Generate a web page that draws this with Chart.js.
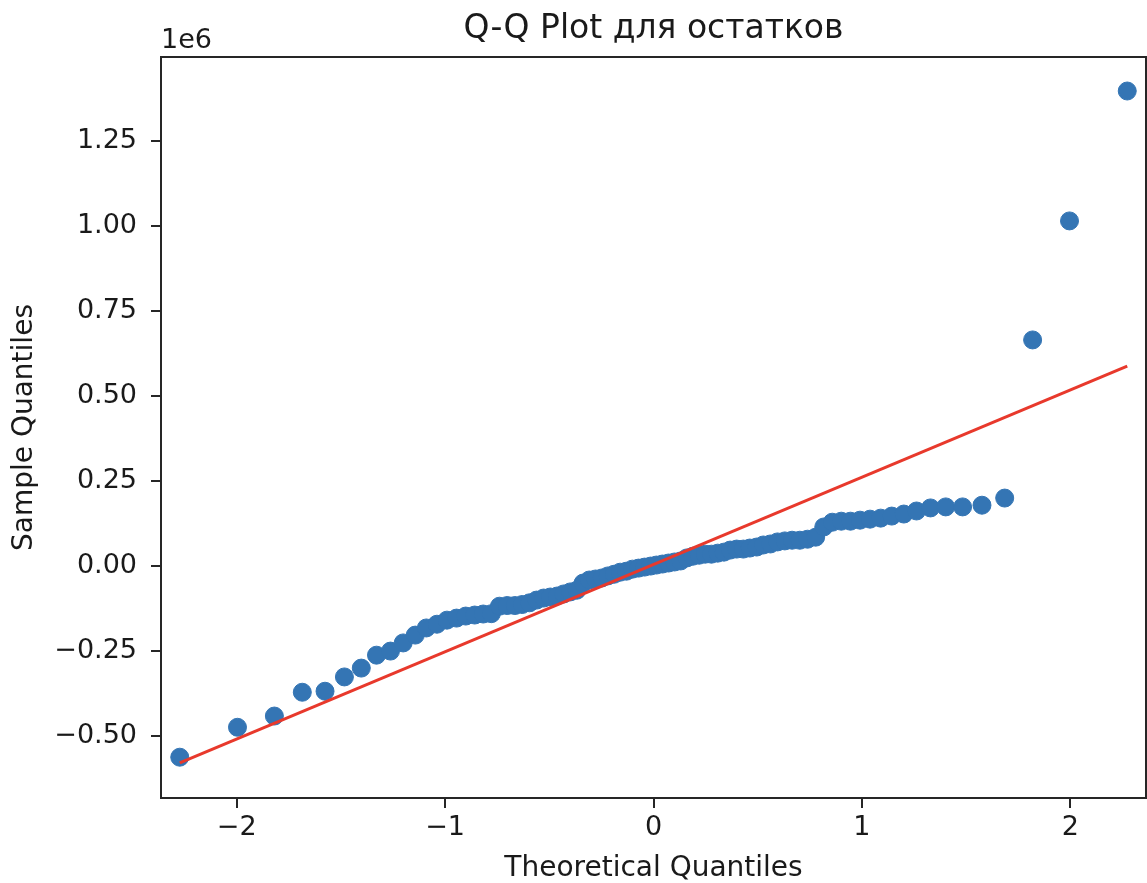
<!DOCTYPE html>
<html>
<head>
<meta charset="utf-8">
<script src="https://cdn.jsdelivr.net/npm/chart.js@4.4.1/dist/chart.umd.min.js"></script>
<style>
html, body { margin: 0; padding: 0; background: #fff; overflow: hidden; }
#wrap { width: 1156px; height: 883px; }
</style>
</head>
<body>
<div id="wrap"><canvas id="qq" width="1156" height="883"></canvas></div>
<script>
const TITLE = "Q-Q Plot для остатков";
const X_LABEL = "Theoretical Quantiles";
const Y_LABEL = "Sample Quantiles";
const OFFSET_TEXT = "1e6";

// theoretical quantiles
const theoretical = [
    -2.273, -1.996, -1.819, -1.685, -1.576, -1.483, -1.402, -1.329, -1.262, -1.201,
    -1.143, -1.090, -1.039, -0.991, -0.945, -0.901, -0.858, -0.817, -0.778, -0.739,
    -0.702, -0.665, -0.630, -0.595, -0.561, -0.527, -0.495, -0.462, -0.431, -0.399,
    -0.368, -0.338, -0.308, -0.278, -0.248, -0.219, -0.189, -0.160, -0.130, -0.101,
    -0.072, -0.043, -0.014, 0.014, 0.043, 0.072, 0.101, 0.130, 0.160, 0.189,
    0.219, 0.248, 0.278, 0.308, 0.338, 0.368, 0.399, 0.431, 0.462, 0.495,
    0.527, 0.561, 0.595, 0.630, 0.665, 0.702, 0.739, 0.778, 0.817, 0.858,
    0.901, 0.945, 0.991, 1.039, 1.090, 1.143, 1.201, 1.262, 1.329, 1.402,
    1.483, 1.576, 1.685, 1.819, 1.996, 2.273
];

// sample quantiles (residuals)
const sample = [
    -562000, -474000, -441000, -371000, -368000, -326000, -300000, -262000, -250000, -226000,
    -203000, -182000, -171000, -159000, -153000, -147000, -144000, -141000, -140000, -118000,
    -116000, -116000, -113000, -108000, -100000, -94000, -91000, -88000, -82000, -76000,
    -71000, -50000, -41000, -38000, -35000, -29000, -24000, -18000, -15000, -9000,
    -6000, -3000, 0, 3000, 6000, 9000, 12000, 15000, 24000, 29000,
    32000, 35000, 35000, 38000, 41000, 47000, 50000, 50000, 53000, 56000,
    62000, 65000, 71000, 74000, 76000, 76000, 79000, 85000, 115000, 129000,
    132000, 132000, 135000, 138000, 141000, 147000, 153000, 162000, 171000, 174000,
    174000, 179000, 200000, 665000, 1015000, 1397000
];

// fitted reference line ends
const lineX = [-2.273, 2.273];
const lineY = [-579000, 588000];

// tick positions
const xTicks = [-2, -1, 0, 1, 2];
const yTicks = [-500000, -250000, 0, 250000, 500000, 750000, 1000000, 1250000];

const X_MIN = -2.363, X_MAX = 2.363;
const Y_MIN = -682000, Y_MAX = 1497000;

const INK = '#262626';
const TEXT = '#1a1a1a';
const FONT = '"DejaVu Sans", "Liberation Sans", sans-serif';

var points = theoretical.map(function (x, i) { return {x: x, y: sample[i]}; });
var linePts = lineX.map(function (x, i) { return {x: x, y: lineY[i]}; });

var frame = {
    id: 'frame',
    afterDraw: function (chart) {
        var ctx = chart.ctx, a = chart.chartArea;
        ctx.save();
        ctx.strokeStyle = INK;
        ctx.lineWidth = 2;
        ctx.strokeRect(a.left, a.top, a.right - a.left, a.bottom - a.top);
        ctx.fillStyle = TEXT;
        ctx.font = '27px ' + FONT;
        ctx.textAlign = 'left';
        ctx.textBaseline = 'alphabetic';
        ctx.fillText(OFFSET_TEXT, a.left, 48);
        ctx.restore();
    }
};

var minus = function (s) { return s.replace('-', '\u2212'); };
var setTicks = function (list) {
    return function (scale) { scale.ticks = list.map(function (v) { return {value: v}; }); };
};

new Chart(document.getElementById('qq'), {
    type: 'scatter',
    data: {
        datasets: [
            {
                type: 'line',
                label: 'line',
                data: linePts,
                borderColor: '#e8392c',
                borderWidth: 3,
                pointRadius: 0,
                fill: false,
                order: 0
            },
            {
                label: 'sample',
                data: points,
                backgroundColor: 'rgb(52,117,180)',
                borderColor: 'rgb(52,117,180)',
                borderWidth: 1,
                pointRadius: 9,
                order: 1
            }
        ]
    },
    options: {
        responsive: false,
        animation: false,
        layout: { padding: { top: 0, right: 1, left: 0, bottom: 0 } },
        plugins: {
            legend: { display: false },
            tooltip: { enabled: false },
            title: {
                display: true,
                text: TITLE,
                fullSize: false,
                color: TEXT,
                font: { family: FONT, size: 33, weight: 'normal', lineHeight: 1.2 },
                padding: { top: 10, bottom: 7.4 }
            }
        },
        scales: {
            x: {
                type: 'linear',
                min: X_MIN,
                max: X_MAX,
                afterBuildTicks: setTicks(xTicks),
                afterFit: function (s) { s.height = 85; },
                border: { display: false },
                grid: { display: true, drawOnChartArea: false, drawTicks: true, tickLength: 10, color: INK, lineWidth: 2 },
                ticks: {
                    maxRotation: 0,
                    padding: 4,
                    color: TEXT,
                    font: { family: FONT, size: 27, lineHeight: 1.2 },
                    callback: function (v) { return minus(String(v)); }
                },
                title: {
                    display: true,
                    text: X_LABEL,
                    color: TEXT,
                    font: { family: FONT, size: 28, lineHeight: 1.0 },
                    padding: { top: 0, bottom: 0 }
                }
            },
            y: {
                type: 'linear',
                min: Y_MIN,
                max: Y_MAX,
                afterBuildTicks: setTicks(yTicks),
                afterFit: function (s) { s.width = 161; },
                border: { display: false },
                grid: { display: true, drawOnChartArea: false, drawTicks: true, tickLength: 10, color: INK, lineWidth: 2 },
                ticks: {
                    padding: 14,
                    color: TEXT,
                    font: { family: FONT, size: 27, lineHeight: 1.2 },
                    callback: function (v) { return minus((v / 1e6).toFixed(2)); }
                },
                title: {
                    display: true,
                    text: Y_LABEL,
                    color: TEXT,
                    font: { family: FONT, size: 28, lineHeight: 1.2 },
                    padding: { top: 8, bottom: 0 }
                }
            }
        }
    },
    plugins: [frame]
});
</script>
</body>
</html>
